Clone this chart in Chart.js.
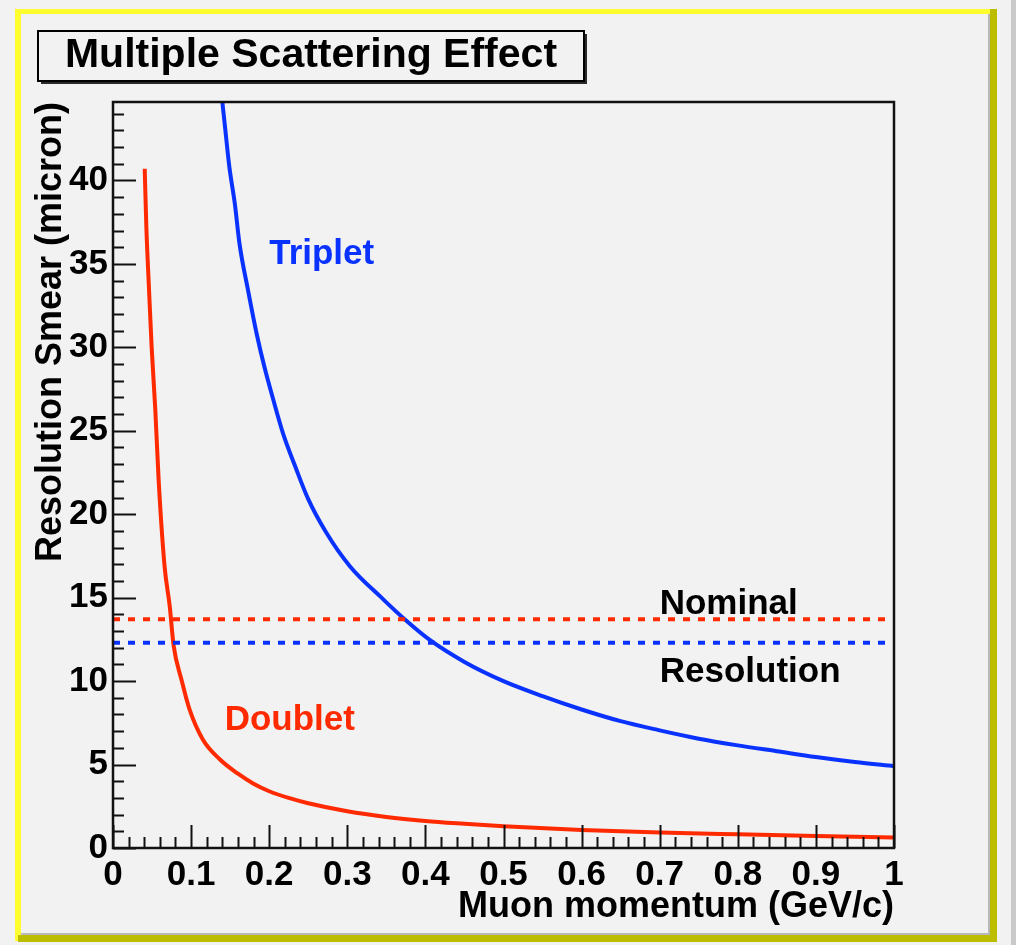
<!DOCTYPE html>
<html>
<head>
<meta charset="utf-8">
<title>Multiple Scattering Effect</title>
<script src="https://cdn.jsdelivr.net/npm/chart.js@4.4.0/dist/chart.umd.min.js"></script>
<style>
  html, body { margin: 0; padding: 0; background: #f2f2f2; overflow: hidden; }
</style>
</head>
<body>
<canvas id="graphe" width="1016" height="945"></canvas>
<script>
// Données : impulsion du muon (GeV/c) -> étalement (micron)
const tripletP = [0.140, 0.143, 0.149, 0.156, 0.162, 0.173, 0.184, 0.194, 0.205, 0.218, 0.233, 0.250, 0.273, 0.303, 0.346, 0.376, 0.406, 0.45, 0.50, 0.55, 0.60, 0.65, 0.70, 0.75, 0.80, 0.85, 0.90, 0.95, 1.00];
const tripletSmear = [44.7, 43.4, 40.8, 38.6, 36.2, 33.4, 30.8, 28.8, 26.9, 24.8, 22.9, 20.9, 18.9, 16.9, 14.9, 13.6, 12.45, 11.15, 10.0, 9.1, 8.3, 7.6, 7.05, 6.55, 6.15, 5.8, 5.45, 5.15, 4.9];

const doubletP = [0.0406, 0.0427, 0.046, 0.0495, 0.054, 0.0585, 0.066, 0.0726, 0.0777, 0.0876, 0.098, 0.115, 0.137, 0.16, 0.18, 0.20, 0.225, 0.25, 0.30, 0.35, 0.40, 0.45, 0.50, 0.60, 0.70, 0.80, 0.90, 1.00];
const doubletSmear = [40.7, 37.2, 33.6, 30.0, 26.4, 22.0, 16.9, 14.5, 12.1, 10.1, 8.3, 6.5, 5.3, 4.45, 3.85, 3.4, 3.0, 2.68, 2.2, 1.86, 1.62, 1.45, 1.3, 1.08, 0.93, 0.82, 0.72, 0.63];

// Résolution nominale (lignes pointillées) : doublet, triplet
const nominalLabels = ['Doublet', 'Triplet'];
const nominalRes = [13.7, 12.3];
const nominalRange = [0, 1];

// Axes
const xRange = [0, 1];
const yRange = [0, 44.7];
const xStep = 0.1;
const yStep = 5;

const ROUGE = '#ff2a00';
const BLEU = '#0a32ff';
const FOND = '#f2f2f2';
const POLICE = '"Liberation Sans", Arial, Helvetica, sans-serif';

const toPoints = (xs, ys) => xs.map((x, i) => ({ x: x, y: ys[i] }));

// Cadre ROOT, boîte de titre, graduations internes et étiquettes
const cadreRoot = {
  id: 'cadreRoot',
  beforeDraw(chart) {
    const ctx = chart.ctx;
    ctx.save();
    ctx.fillStyle = FOND;
    ctx.fillRect(0, 0, chart.width, chart.height);
    // bande grise à droite
    ctx.fillStyle = '#c9c9c9';
    ctx.fillRect(1011, 0, 5, chart.height);

    // bordure biseautée jaune / olive
    ctx.fillStyle = '#ffff30';
    ctx.fillRect(15, 9, 978, 5);
    ctx.fillRect(15, 9, 6, 932);
    ctx.fillStyle = '#bdbd00';
    ctx.fillRect(990, 9, 7, 933);
    ctx.fillRect(18, 935, 979, 7);
    ctx.fillStyle = '#b8b8b8';
    ctx.fillRect(988, 14, 2, 921);
    ctx.fillRect(21, 933, 969, 2);

    // boîte du titre
    ctx.fillStyle = '#2a2a2a';
    ctx.fillRect(41, 34, 546, 50);
    ctx.fillStyle = FOND;
    ctx.fillRect(38, 31, 546, 50);
    ctx.strokeStyle = '#000';
    ctx.lineWidth = 2;
    ctx.strokeRect(38, 31, 546, 50);
    ctx.fillStyle = '#000';
    ctx.font = 'bold 41px ' + POLICE;
    ctx.textAlign = 'center';
    ctx.textBaseline = 'alphabetic';
    ctx.fillText('Multiple Scattering Effect', 311, 67);
    ctx.restore();
  },
  afterDatasetsDraw(chart) {
    const ctx = chart.ctx;
    const xs = chart.scales.x, ys = chart.scales.y;
    const { left, right, top, bottom } = chart.chartArea;
    ctx.save();
    ctx.strokeStyle = '#111';
    ctx.lineWidth = 2;
    ctx.beginPath();
    for (let i = 0; i <= 50; i++) {
      const px = Math.round(xs.getPixelForValue(i / 50)) + 0.5;
      const len = i % 5 === 0 ? 23 : 11;
      ctx.moveTo(px, bottom);
      ctx.lineTo(px, bottom - len);
    }
    for (let v = 0; v <= 44; v++) {
      const py = Math.round(ys.getPixelForValue(v)) + 0.5;
      const len = v % 5 === 0 ? 23 : 11;
      ctx.moveTo(left, py);
      ctx.lineTo(left + len, py);
    }
    ctx.stroke();
    ctx.lineWidth = 2.5;
    ctx.strokeRect(left, top, right - left, bottom - top);

    // étiquettes dans le graphe
    ctx.font = 'bold 35px ' + POLICE;
    ctx.textAlign = 'left';
    ctx.textBaseline = 'alphabetic';
    const etiquettes = [
      { t: 'Triplet', x: 0.2, y: 35, c: BLEU },
      { t: 'Doublet', x: 0.143, y: 7.1, c: ROUGE },
      { t: 'Nominal', x: 0.7, y: 14, c: '#000' },
      { t: 'Resolution', x: 0.7, y: 9.95, c: '#000' }
    ];
    etiquettes.forEach(e => {
      ctx.fillStyle = e.c;
      ctx.fillText(e.t, xs.getPixelForValue(e.x), ys.getPixelForValue(e.y));
    });
    ctx.restore();
  }
};

new Chart(document.getElementById('graphe'), {
  type: 'line',
  data: {
    datasets: [
      {
        label: nominalLabels[0] + ' nominal',
        data: toPoints(nominalRange, [nominalRes[0], nominalRes[0]]),
        borderColor: ROUGE,
        borderWidth: 4,
        borderDash: [7, 8],
        borderCapStyle: 'butt',
        pointRadius: 0
      },
      {
        label: nominalLabels[1] + ' nominal',
        data: toPoints(nominalRange, [nominalRes[1], nominalRes[1]]),
        borderColor: BLEU,
        borderWidth: 4,
        borderDash: [7, 8],
        borderCapStyle: 'butt',
        pointRadius: 0
      },
      {
        label: 'Triplet',
        data: toPoints(tripletP, tripletSmear),
        borderColor: BLEU,
        borderWidth: 4,
        pointRadius: 0,
        cubicInterpolationMode: 'monotone'
      },
      {
        label: 'Doublet',
        data: toPoints(doubletP, doubletSmear),
        borderColor: ROUGE,
        borderWidth: 4,
        pointRadius: 0,
        cubicInterpolationMode: 'monotone'
      }
    ]
  },
  options: {
    responsive: false,
    animation: false,
    devicePixelRatio: 1,
    layout: {
      padding: { top: 102, right: 122, bottom: 0, left: 0 }
    },
    plugins: {
      legend: { display: false },
      tooltip: { enabled: false },
      title: { display: false }
    },
    scales: {
      x: {
        type: 'linear',
        min: xRange[0],
        max: xRange[1],
        afterFit: (scale) => { scale.height = 97; },
        grid: { display: false, drawTicks: false },
        border: { display: false },
        ticks: {
          stepSize: xStep,
          autoSkip: false,
          maxRotation: 0,
          padding: 6,
          color: '#000',
          font: { family: POLICE, size: 35, weight: 'bold' },
          callback: (v) => parseFloat(v.toFixed(1)).toString()
        },
        title: {
          display: true,
          text: 'Muon momentum (GeV/c)',
          align: 'end',
          color: '#000',
          font: { family: POLICE, size: 36, weight: 'bold' },
          padding: { top: 0, bottom: 16 }
        }
      },
      y: {
        type: 'linear',
        min: yRange[0],
        max: yRange[1],
        afterFit: (scale) => { scale.width = 113; },
        grid: { display: false, drawTicks: false },
        border: { display: false },
        ticks: {
          stepSize: yStep,
          includeBounds: false,
          padding: 5,
          color: '#000',
          font: { family: POLICE, size: 35, weight: 'bold' }
        },
        title: {
          display: true,
          text: 'Resolution Smear (micron)',
          align: 'end',
          color: '#000',
          font: { family: POLICE, size: 36, weight: 'bold' },
          padding: { top: 29, bottom: 0 }
        }
      }
    }
  },
  plugins: [cadreRoot]
});
</script>
</body>
</html>
